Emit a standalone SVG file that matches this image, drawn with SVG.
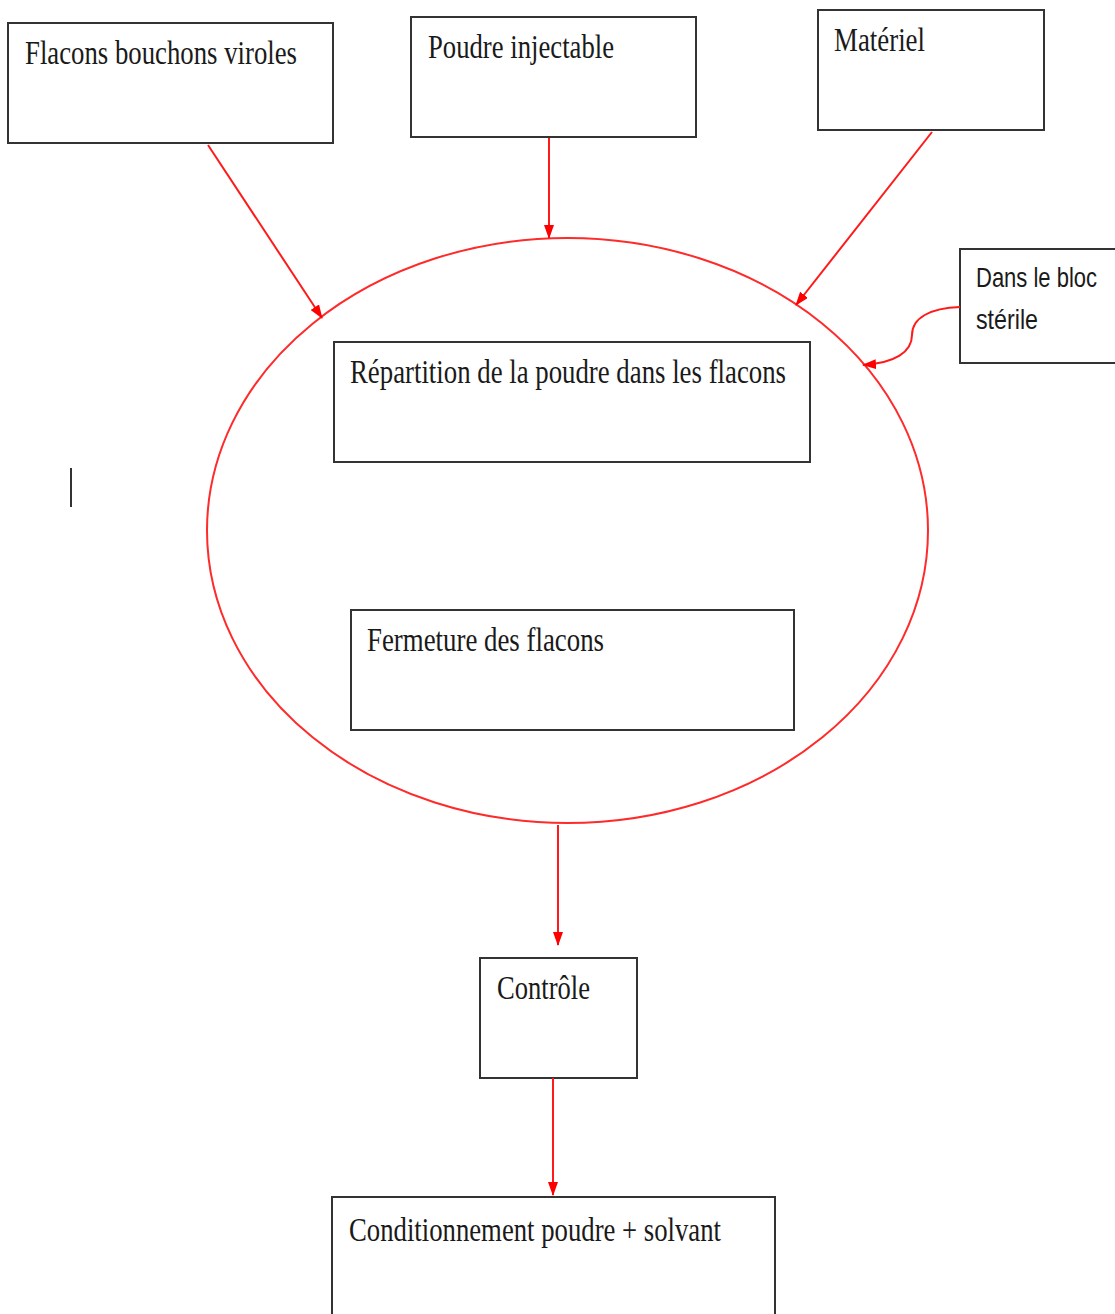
<svg xmlns="http://www.w3.org/2000/svg" width="1115" height="1314" viewBox="0 0 1115 1314">
  <style>
    .box { fill: #fff; stroke: #333; stroke-width: 2; }
    .lbl { font-family: "Liberation Serif", "Times New Roman", serif; font-size: 26.5px; fill: #1a1a1a; }
    .lbs { font-family: "Liberation Sans", Arial, sans-serif; font-size: 22px; fill: #1a1a1a; }
    .wire { fill: none; stroke: #ff1a1a; stroke-width: 2; }
    .ring { fill: none; stroke: #ff2a2a; stroke-width: 2; }
  </style>
  <defs>
    <marker id="arrow" viewBox="0 0 14 10" refX="13" refY="5" markerWidth="14" markerHeight="10" markerUnits="userSpaceOnUse" orient="auto">
      <path d="M0,0 L14,5 L0,10 Z" fill="#ff0000"/>
    </marker>
  </defs>

  <rect width="1115" height="1314" fill="#fff"/>

  <!-- sterile zone -->
  <g id="zone">
    <ellipse class="ring" cx="567.5" cy="530.5" rx="360.5" ry="292.5"/>
  </g>

  <g id="flacons">
    <rect class="box" x="8" y="23" width="325" height="120"/>
    <text class="lbl" transform="translate(25,64) scale(1,1.25)" textLength="272" lengthAdjust="spacingAndGlyphs">Flacons bouchons viroles</text>
  </g>

  <g id="poudre">
    <rect class="box" x="411" y="17" width="285" height="120"/>
    <text class="lbl" transform="translate(428,58) scale(1,1.25)" textLength="186" lengthAdjust="spacingAndGlyphs">Poudre injectable</text>
  </g>

  <g id="materiel">
    <rect class="box" x="818" y="10" width="226" height="120"/>
    <text class="lbl" transform="translate(834,51) scale(1,1.25)" textLength="91" lengthAdjust="spacingAndGlyphs">Matériel</text>
  </g>

  <g id="bloc">
    <rect class="box" x="960" y="249" width="160" height="114"/>
    <text class="lbs" transform="translate(976,287) scale(1,1.27)" textLength="121" lengthAdjust="spacingAndGlyphs">Dans le bloc</text>
    <text class="lbs" transform="translate(976,329) scale(1,1.27)" textLength="62" lengthAdjust="spacingAndGlyphs">stérile</text>
  </g>

  <g id="repartition">
    <rect class="box" x="334" y="342" width="476" height="120"/>
    <text class="lbl" transform="translate(350,383) scale(1,1.25)" textLength="436" lengthAdjust="spacingAndGlyphs">Répartition de la poudre dans les flacons</text>
  </g>

  <g id="fermeture">
    <rect class="box" x="351" y="610" width="443" height="120"/>
    <text class="lbl" transform="translate(367,651) scale(1,1.25)" textLength="237" lengthAdjust="spacingAndGlyphs">Fermeture des flacons</text>
  </g>

  <g id="controle">
    <rect class="box" x="480" y="958" width="157" height="120"/>
    <text class="lbl" transform="translate(497,999) scale(1,1.25)" textLength="93" lengthAdjust="spacingAndGlyphs">Contrôle</text>
  </g>

  <g id="conditionnement">
    <rect class="box" x="332" y="1197" width="443" height="130"/>
    <text class="lbl" transform="translate(349,1241) scale(1,1.25)" textLength="372" lengthAdjust="spacingAndGlyphs">Conditionnement poudre + solvant</text>
  </g>

  <!-- stray text cursor -->
  <line x1="71" y1="468" x2="71" y2="507" stroke="#333" stroke-width="2"/>

  <g id="connectors">
    <line class="wire" x1="208" y1="145" x2="322" y2="318" marker-end="url(#arrow)"/>
    <line class="wire" x1="549" y1="138" x2="549" y2="238" marker-end="url(#arrow)"/>
    <line class="wire" x1="932" y1="132" x2="796" y2="305" marker-end="url(#arrow)"/>
    <path class="wire" d="M960,307 C930,308 912,318 912,335 C912,352 895,363 863,365" marker-end="url(#arrow)"/>
    <line class="wire" x1="558" y1="825" x2="558" y2="945" marker-end="url(#arrow)"/>
    <line class="wire" x1="553" y1="1078" x2="553" y2="1195" marker-end="url(#arrow)"/>
  </g>
</svg>
